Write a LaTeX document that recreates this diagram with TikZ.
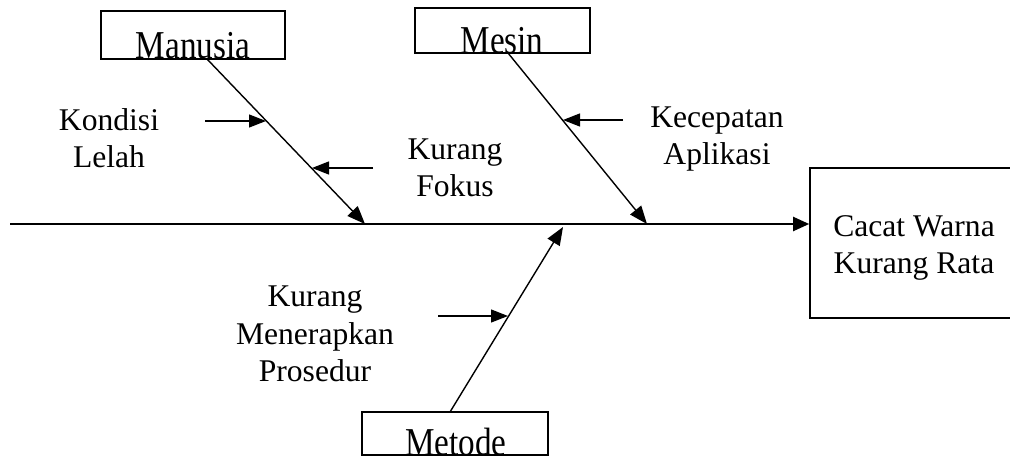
\documentclass[tikz,border=0pt]{standalone}
\usepackage{fontspec}
\setmainfont{Liberation Serif}
\usetikzlibrary{arrows.meta}
\tikzset{
  lbl/.style={align=center, inner sep=0pt, font=\fontsize{31.6}{37.5}\selectfont},
  catbox/.style={draw, line width=1.6pt, inner sep=0pt},
  bone/.style={line width=1.4pt, -{Triangle[length=18pt,width=14pt]}},
  sub/.style={line width=1.3pt, -{Triangle[length=17pt,width=13pt]}},
  spine/.style={line width=2pt, -{Triangle[length=16pt,width=14pt]}},
  boxtxt/.style={anchor=base, inner sep=0pt, font=\fontsize{31.6}{37}\selectfont}
}
\begin{document}
\begin{tikzpicture}[x=1pt,y=-1pt]
\useasboundingbox (0,0) rectangle (1010,457);

% category boxes
\node[catbox, minimum width=184pt, minimum height=48pt] (manusia) at (193,35) {};
\node[catbox, minimum width=175pt, minimum height=45pt] (mesin) at (502.5,30.5) {};
\node[catbox, minimum width=186pt, minimum height=43pt] (metode) at (455,433.5) {};
\begin{scope}
  \clip (manusia.south west) rectangle (manusia.north east);
  \node[boxtxt] (tmanusia) at (193,59) {\scalebox{1.05}[1.25]{Manusia}};
\end{scope}
\begin{scope}
  \clip (mesin.south west) rectangle (mesin.north east);
  \node[boxtxt] (tmesin) at (502,54) {\scalebox{1.05}[1.25]{Mesin}};
\end{scope}
\begin{scope}
  \clip (metode.south west) rectangle (metode.north east);
  \node[boxtxt] (tmetode) at (456,455) {\scalebox{1.05}[1.25]{Metode}};
\end{scope}

% effect box
\node[catbox, minimum width=212pt, minimum height=150pt] (effect) at (916,243) {};
\node[lbl] (teffect) at (914,248) {Cacat Warna\\Kurang Rata};

% spine
\coordinate (tail) at (10,224);
\draw[spine] (tail) -- (effect.west |- tail);

% bone ends
\coordinate (m0) at (207,59);
\coordinate (m1) at (365,224);
\coordinate (s0) at (508,53);
\coordinate (s1) at (647,224);
\coordinate (d0) at (450,412);
\coordinate (d1) at (563,227);
\draw[bone] (m0) -- (m1);
\draw[bone] (s0) -- (s1);
\draw[bone] (d0) -- (d1);

% cause labels
\node[lbl] (kondisi) at (109,138) {Kondisi\\Lelah};
\node[lbl] (fokus) at (455,168) {Kurang\\Fokus};
\node[lbl] (kecepatan) at (717,139) {Kecepatan\\Aplikasi};
\node[lbl] (prosedur) at (315,334) {Kurang\\Menerapkan\\Prosedur};

% sub-cause arrows
\coordinate (a1) at (205,121); \coordinate (b1) at (266,121);
\coordinate (a2) at (373,168); \coordinate (b2) at (312,168);
\coordinate (a3) at (623,120); \coordinate (b3) at (563,120);
\coordinate (a4) at (438,316); \coordinate (b4) at (508,316);
\draw[sub] (a1) -- (b1);
\draw[sub] (a2) -- (b2);
\draw[sub] (a3) -- (b3);
\draw[sub] (a4) -- (b4);
\end{tikzpicture}
\end{document}
